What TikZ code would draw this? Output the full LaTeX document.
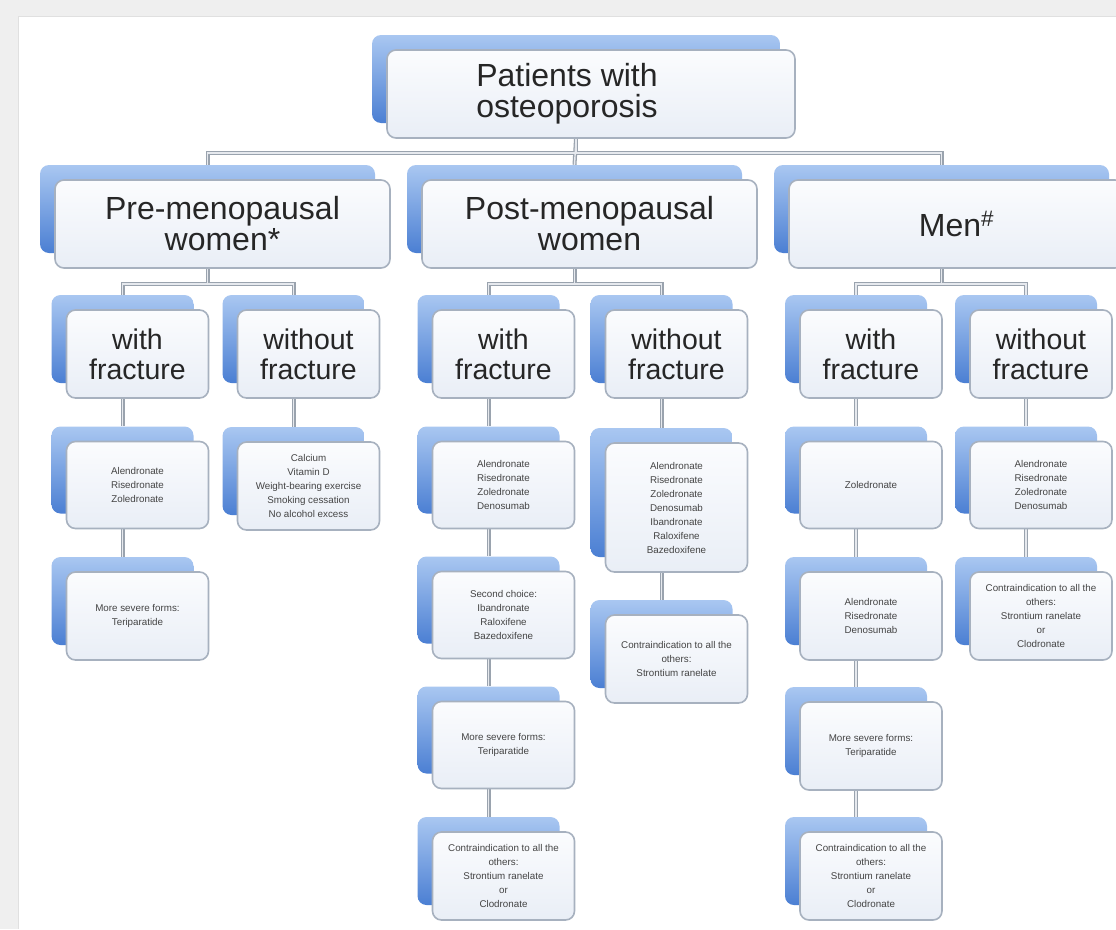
\documentclass[tikz,border=0pt]{standalone}
\usepackage{fontspec}
\setmainfont{Liberation Sans}
\definecolor{backtop}{HTML}{A9C7F1}
\definecolor{backbot}{HTML}{4B7FD3}
\definecolor{fronttop}{HTML}{FBFCFE}
\definecolor{frontbot}{HTML}{E9EEF6}
\definecolor{frontline}{HTML}{A7B1BF}
\definecolor{conn}{HTML}{9AA3AE}
\definecolor{conninner}{HTML}{E6E9EE}
\definecolor{txt}{HTML}{262626}
\definecolor{smalltxt}{HTML}{444444}
\definecolor{panel}{HTML}{EFEFEF}
\definecolor{panelline}{HTML}{E0E0E0}
\pgfdeclarelayer{panellayer}
\pgfdeclarelayer{linklayer}
\pgfsetlayers{panellayer,linklayer,main}
\tikzset{
  backbox/.style={rounded corners=9pt, top color=backtop, bottom color=backbot, draw=none, inner sep=0pt},
  frontbox/.style={rounded corners=9pt, top color=fronttop, bottom color=frontbot, draw=frontline, line width=1.6pt, inner sep=0pt, align=center},
  bigtext/.style={font=\fontsize{32}{31}\selectfont, text=txt},
  midtext/.style={font=\fontsize{28.5}{30}\selectfont, text=txt},
  smalltext/.style={font=\fontsize{9.8}{14}\selectfont, text=smalltxt},
  linkout/.style={draw=conn, line width=4pt},
  linkin/.style={draw=conninner, line width=1.4pt},
}
\newcommand\mycard[7]{%
  \node[backbox, minimum width=#4pt, minimum height=#5pt] (#1B) at (#2-15,#3-15) {};
  \node[frontbox, #6, minimum width=#4pt, minimum height=#5pt] (#1) at (#2,#3) {#7};
}
\newcommand\alllinks[1]{%
  \draw[#1] (rootB |- root.south) -- ++(0,14) -| (preB.north);
  \draw[#1] (rootB |- root.south) -- ++(0,14) -| (menB.north);
  \draw[#1] (rootB |- root.south) -- (postB.north);
  \draw[#1] (preB |- pre.south) -- ++(0,15) -| (pwB.north);
  \draw[#1] (preB |- pre.south) -- ++(0,15) -| (pwoB.north);
  \draw[#1] (postB |- post.south) -- ++(0,15) -| (qwB.north);
  \draw[#1] (postB |- post.south) -- ++(0,15) -| (qwoB.north);
  \draw[#1] (menB |- men.south) -- ++(0,15) -| (mwB.north);
  \draw[#1] (menB |- men.south) -- ++(0,15) -| (mwoB.north);
  \draw[#1] (pwB |- pw.south) -- (pwaB.north);
  \draw[#1] (pwaB |- pwa.south) -- (pwbB.north);
  \draw[#1] (pwoB |- pwo.south) -- (pwoaB.north);
  \draw[#1] (qwB |- qw.south) -- (qwaB.north);
  \draw[#1] (qwaB |- qwa.south) -- (qwbB.north);
  \draw[#1] (qwbB |- qwb.south) -- (qwcB.north);
  \draw[#1] (qwcB |- qwc.south) -- (qwdB.north);
  \draw[#1] (qwoB |- qwo.south) -- (qwoaB.north);
  \draw[#1] (qwoaB |- qwoa.south) -- (qwobB.north);
  \draw[#1] (mwB |- mw.south) -- (mwaB.north);
  \draw[#1] (mwaB |- mwa.south) -- (mwbB.north);
  \draw[#1] (mwbB |- mwb.south) -- (mwcB.north);
  \draw[#1] (mwcB |- mwc.south) -- (mwdB.north);
  \draw[#1] (mwoB |- mwo.south) -- (mwoaB.north);
  \draw[#1] (mwoaB |- mwoa.south) -- (mwobB.north);
}
\begin{document}
\begin{tikzpicture}[x=1pt, y=-1pt]
\useasboundingbox (0,0) rectangle (1116,929);
\clip (0,0) rectangle (1116,929);
\begin{pgfonlayer}{panellayer}
  \fill[panel] (0,0) rectangle (1116,929);
  \fill[white] (18,16) rectangle (1116,929);
  \draw[panelline, line width=1pt] (18,929) -- (18,16) -- (1116,16);
\end{pgfonlayer}
% root
\mycard{root}{591}{94}{408}{88}{bigtext}{}
\node[bigtext, align=center] (rootT) at (567,94) {Patients with\\osteoporosis};
% level 2
\mycard{pre}{222.5}{224}{335}{88}{bigtext}{Pre-menopausal\\women*}
\mycard{post}{589.5}{224}{335}{88}{bigtext}{Post-menopausal\\women}
\mycard{men}{956.5}{224}{335}{88}{bigtext}{Men\textsuperscript{\#}}
% level 3
\mycard{pw}{137.5}{354}{142}{88}{midtext}{with\\fracture}
\mycard{pwo}{308.5}{354}{142}{88}{midtext}{without\\fracture}
\mycard{qw}{503.5}{354}{142}{88}{midtext}{with\\fracture}
\mycard{qwo}{676.5}{354}{142}{88}{midtext}{without\\fracture}
\mycard{mw}{871}{354}{142}{88}{midtext}{with\\fracture}
\mycard{mwo}{1041}{354}{142}{88}{midtext}{without\\fracture}
% pre-menopausal
\mycard{pwa}{137.5}{485}{142}{87}{smalltext}{Alendronate\\Risedronate\\Zoledronate}
\mycard{pwb}{137.5}{616}{142}{88}{smalltext}{More severe forms:\\Teriparatide}
\mycard{pwoa}{308.5}{486}{142}{88}{smalltext}{Calcium\\Vitamin D\\Weight-bearing exercise\\Smoking cessation\\No alcohol excess}
% post-menopausal
\mycard{qwa}{503.5}{485}{142}{87}{smalltext}{Alendronate\\Risedronate\\Zoledronate\\Denosumab}
\mycard{qwb}{503.5}{615}{142}{87}{smalltext}{Second choice:\\Ibandronate\\Raloxifene\\Bazedoxifene}
\mycard{qwc}{503.5}{745}{142}{87}{smalltext}{More severe forms:\\Teriparatide}
\mycard{qwd}{503.5}{876}{142}{88}{smalltext}{Contraindication to all the\\others:\\Strontium ranelate\\or\\Clodronate}
\mycard{qwoa}{676.5}{507.5}{142}{129}{smalltext}{Alendronate\\Risedronate\\Zoledronate\\Denosumab\\Ibandronate\\Raloxifene\\Bazedoxifene}
\mycard{qwob}{676.5}{659}{142}{88}{smalltext}{Contraindication to all the\\others:\\Strontium ranelate}
% men
\mycard{mwa}{871}{485}{142}{87}{smalltext}{Zoledronate}
\mycard{mwb}{871}{616}{142}{88}{smalltext}{Alendronate\\Risedronate\\Denosumab}
\mycard{mwc}{871}{746}{142}{88}{smalltext}{More severe forms:\\Teriparatide}
\mycard{mwd}{871}{876}{142}{88}{smalltext}{Contraindication to all the\\others:\\Strontium ranelate\\or\\Clodronate}
\mycard{mwoa}{1041}{485}{142}{87}{smalltext}{Alendronate\\Risedronate\\Zoledronate\\Denosumab}
\mycard{mwob}{1041}{616}{142}{88}{smalltext}{Contraindication to all the\\others:\\Strontium ranelate\\or\\Clodronate}
% connectors
\begin{pgfonlayer}{linklayer}
  \alllinks{linkout}
  \alllinks{linkin}
\end{pgfonlayer}
\end{tikzpicture}
\end{document}
